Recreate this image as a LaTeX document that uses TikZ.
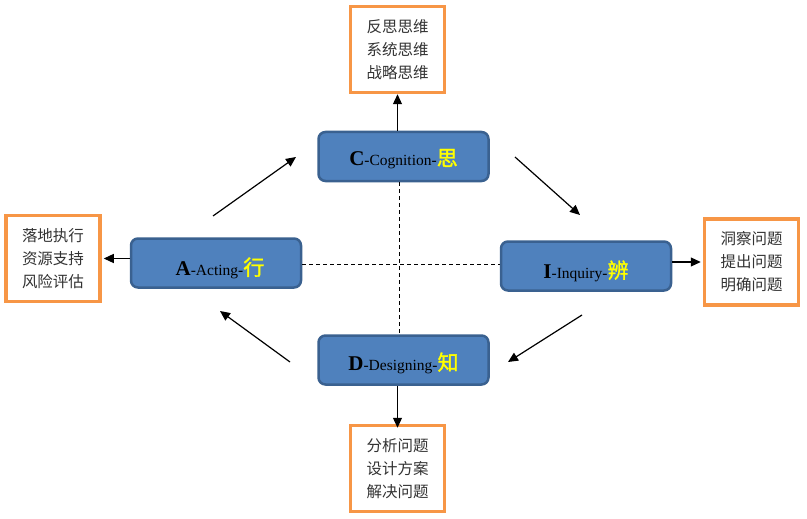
\documentclass[tikz,border=0pt]{standalone}
\usepackage{fontspec}
\setmainfont{Liberation Serif}
\newfontfamily\cjk{Noto Sans CJK SC}
\newfontfamily\cjkbold[FakeBold=1.5]{Noto Sans CJK SC}
\usetikzlibrary{arrows.meta}
\definecolor{bfill}{HTML}{4F81BD}
\definecolor{bdraw}{HTML}{3A6190}
\definecolor{obox}{HTML}{F79646}
\definecolor{cyel}{HTML}{FFFF00}
\definecolor{tgray}{HTML}{333333}
\begin{document}
\begin{tikzpicture}[x=1pt,y=-1pt,
  bluebox/.style={draw=bdraw,fill=bfill,line width=2.5pt,rounded corners=7pt,minimum width=170pt,minimum height=49pt,inner sep=0pt},
  orbox/.style={draw=obox,fill=white,line width=3.5pt,minimum width=94pt,minimum height=86pt,align=center,inner sep=0pt,font=\cjk\fontsize{15.5}{23}\selectfont,text=tgray},
  arr/.style={-{Triangle[length=10pt,width=9pt]},line width=1.2pt},
  dsh/.style={dashed,line width=0.7pt,dash pattern=on 4pt off 3pt}]
\useasboundingbox (0,0) rectangle (807,519);
\fill[white] (0,0) rectangle (807,519);
\newcommand{\lab}[3]{{\fontsize{21}{21}\selectfont\textbf{#1}}{\fontsize{15.5}{15.5}\selectfont -#2-}{\cjkbold\fontsize{21}{21}\selectfont\textcolor{cyel}{#3}}}
\node[bluebox] (C) at (403.5,156.5) {};
\node[bluebox] (A) at (216,263) {};
\node[bluebox] (I) at (586,266) {};
\node[bluebox] (D) at (403.5,360) {};
\draw[dsh] (399,182) -- (399,335);
\draw[dsh] (302,264) -- (500,264);
\node at (403.5,159) {\lab{C}{Cognition}{思}};
\node at (220,268) {\lab{A}{Acting}{行}};
\node at (586,271) {\lab{I}{Inquiry}{辨}};
\node at (403.5,363) {\lab{D}{Designing}{知}};
\node[orbox] (tc) at (397.5,49.5) {反思思维\\系统思维\\战略思维};
\node[orbox] (ta) at (53,258.5) {落地执行\\资源支持\\风险评估};
\node[orbox] (ti) at (751.5,262) {洞察问题\\提出问题\\明确问题};
\node[orbox] (td) at (397.5,468.5) {分析问题\\设计方案\\解决问题};
\draw[arr] (C.north -| tc.south) -- (tc.south);
\draw[arr] (A.west |- ta.east) -- ([xshift=2pt]ta.east);
\draw[arr] (I.east |- ti.west) -- ([xshift=-2pt]ti.west);
\draw[arr] (D.south -| td.north) -- ([yshift=-4pt]td.north);
\coordinate (a1) at (213,216); \coordinate (a2) at (296,157);
\coordinate (b1) at (515,157); \coordinate (b2) at (580,215);
\coordinate (c1) at (582,315); \coordinate (c2) at (508,362);
\coordinate (d1) at (290,362); \coordinate (d2) at (220,311);
\draw[arr] (a1) -- (a2);
\draw[arr] (b1) -- (b2);
\draw[arr] (c1) -- (c2);
\draw[arr] (d1) -- (d2);
\end{tikzpicture}
\end{document}
